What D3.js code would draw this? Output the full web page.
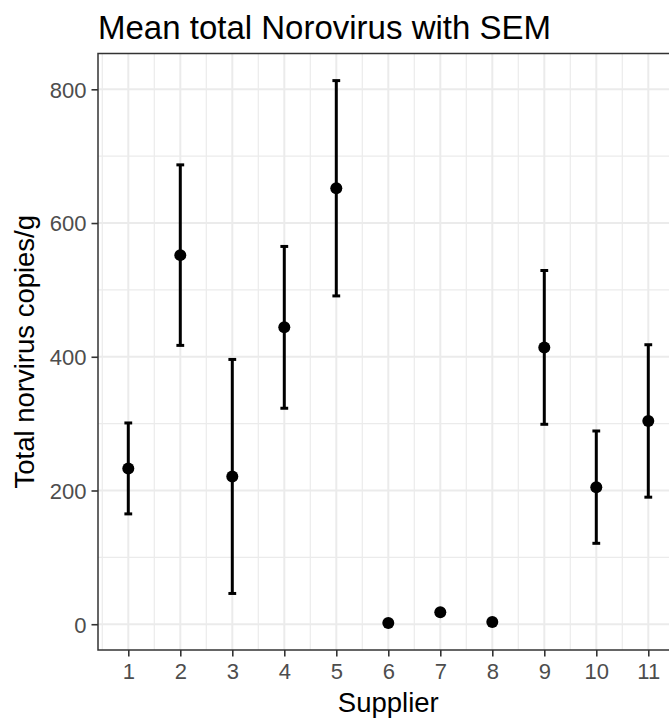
<!DOCTYPE html>
<html>
<head>
<meta charset="utf-8">
<script src="https://cdn.jsdelivr.net/npm/d3@7/dist/d3.min.js"></script>
<style>
    body { margin: 0; background: #fff; }
    svg text { font-family: "Liberation Sans", Arial, Helvetica, sans-serif; }
</style>
</head>
<body>
<div id="norovirus-chart"></div>
<script>
// Supplier means and standard errors (copies/g); suppliers 6-8 have no SEM
var suppliers = [1, 2, 3, 4, 5, 6, 7, 8, 9, 10, 11];
var meanCopies = [233, 552, 221, 444, 652, 2, 18, 3.5, 414, 205, 304];
var semCopies = [68, 135, 175, 121, 161, null, null, null, 115, 84, 114];

var xTicks = [1, 2, 3, 4, 5, 6, 7, 8, 9, 10, 11];
var xMinor = [0.5, 1.5, 2.5, 3.5, 4.5, 5.5, 6.5, 7.5, 8.5, 9.5, 10.5, 11.5];
var yTicks = [0, 200, 400, 600, 800];
var yMinor = [100, 300, 500, 700];

var chartTitle = 'Mean total Norovirus with SEM';
var xTitle = 'Supplier';
var yTitle = 'Total norvirus copies/g';

function initChart() {
    var width = 669,
        height = 720;

    var svg = d3.select('#norovirus-chart').append('svg')
        .attr('width', width)
        .attr('height', height);

    var margin = {top: 53.5, left: 98, bottom: 70};
    var capWidth = 0.15;

    var rows = suppliers.map(function(s, i) {
        return {supplier: s, mean: meanCopies[i], sem: semCopies[i]};
    });

    // ggplot-style 5% expansion on both axes
    var xLo = d3.min(suppliers) - capWidth / 2,
        xHi = d3.max(suppliers) + capWidth / 2,
        xPad = (xHi - xLo) * 0.05;
    var yLo = d3.min(rows, function(d) { return d.sem == null ? d.mean : d.mean - d.sem; }),
        yHi = d3.max(rows, function(d) { return d.sem == null ? d.mean : d.mean + d.sem; }),
        yPad = (yHi - yLo) * 0.05;

    var unit = 52;
    var panelW = (xHi - xLo + 2 * xPad) * unit;
    var panelH = height - margin.bottom - margin.top;

    var x = d3.scaleLinear()
        .domain([xLo - xPad, xHi + xPad])
        .range([0, panelW]);

    var y = d3.scaleLinear()
        .domain([yLo - yPad, yHi + yPad])
        .range([panelH, 0]);

    var graph = svg.append('g')
        .attr('transform', 'translate(' + margin.left + ',' + margin.top + ')');

    // Panel grid: minor lines first, major on top
    var grid = graph.append('g').classed('grid', true);

    grid.selectAll('line.minor-x')
        .data(xMinor)
        .enter().append('line')
        .attr('x1', x).attr('x2', x)
        .attr('y1', 0).attr('y2', panelH)
        .attr('stroke', '#ebebeb').attr('stroke-width', 1.2);

    grid.selectAll('line.minor-y')
        .data(yMinor)
        .enter().append('line')
        .attr('x1', 0).attr('x2', panelW)
        .attr('y1', y).attr('y2', y)
        .attr('stroke', '#ebebeb').attr('stroke-width', 1.2);

    grid.selectAll('line.major-x')
        .data(xTicks)
        .enter().append('line')
        .attr('x1', x).attr('x2', x)
        .attr('y1', 0).attr('y2', panelH)
        .attr('stroke', '#ebebeb').attr('stroke-width', 2);

    grid.selectAll('line.major-y')
        .data(yTicks)
        .enter().append('line')
        .attr('x1', 0).attr('x2', panelW)
        .attr('y1', y).attr('y2', y)
        .attr('stroke', '#ebebeb').attr('stroke-width', 2);

    // Error bars
    var bars = graph.append('g').classed('errorbars', true)
        .selectAll('g')
        .data(rows.filter(function(d) { return d.sem != null; }))
        .enter().append('g')
        .attr('stroke', '#000')
        .attr('stroke-width', 3);

    bars.append('line')
        .attr('x1', function(d) { return x(d.supplier); })
        .attr('x2', function(d) { return x(d.supplier); })
        .attr('y1', function(d) { return y(d.mean - d.sem); })
        .attr('y2', function(d) { return y(d.mean + d.sem); });

    [-1, 1].forEach(function(sign) {
        bars.append('line')
            .attr('x1', function(d) { return x(d.supplier - capWidth / 2); })
            .attr('x2', function(d) { return x(d.supplier + capWidth / 2); })
            .attr('y1', function(d) { return y(d.mean + sign * d.sem); })
            .attr('y2', function(d) { return y(d.mean + sign * d.sem); });
    });

    // Mean points
    graph.append('g').classed('points', true)
        .selectAll('circle')
        .data(rows)
        .enter().append('circle')
        .attr('cx', function(d) { return x(d.supplier); })
        .attr('cy', function(d) { return y(d.mean); })
        .attr('r', 6)
        .attr('fill', '#000');

    // Panel border
    graph.append('rect')
        .attr('width', panelW)
        .attr('height', panelH)
        .attr('fill', 'none')
        .attr('stroke', '#333333')
        .attr('stroke-width', 1.5);

    // Axes
    var xAxis = d3.axisBottom(x)
        .tickValues(xTicks)
        .tickSize(6.5)
        .tickPadding(5)
        .tickSizeOuter(0);

    var yAxis = d3.axisLeft(y)
        .tickValues(yTicks)
        .tickSize(6.5)
        .tickPadding(5)
        .tickSizeOuter(0);

    var gx = graph.append('g')
        .classed('x axis', true)
        .attr('transform', 'translate(0,' + panelH + ')')
        .call(xAxis);

    var gy = graph.append('g')
        .classed('y axis', true)
        .call(yAxis);

    [gx, gy].forEach(function(g) {
        g.select('.domain').remove();
        g.selectAll('.tick line').attr('stroke', '#333333').attr('stroke-width', 1.6);
        g.selectAll('.tick text')
            .attr('fill', '#4d4d4d')
            .style('font-size', '22px');
    });
    gx.selectAll('.tick text').attr('dy', '0.78em');
    gy.selectAll('.tick text').attr('dy', '0.36em');

    // Titles
    svg.append('text')
        .attr('x', margin.left)
        .attr('y', 39)
        .style('font-size', '33px')
        .attr('fill', '#000')
        .text(chartTitle);

    svg.append('text')
        .attr('x', margin.left + panelW / 2)
        .attr('y', 712)
        .attr('text-anchor', 'middle')
        .style('font-size', '27.5px')
        .attr('fill', '#000')
        .text(xTitle);

    svg.append('text')
        .attr('transform', 'translate(33.5,' + (margin.top + panelH / 2) + ') rotate(-90)')
        .attr('text-anchor', 'middle')
        .style('font-size', '27.5px')
        .attr('fill', '#000')
        .text(yTitle);
}

initChart();
</script>
</body>
</html>
